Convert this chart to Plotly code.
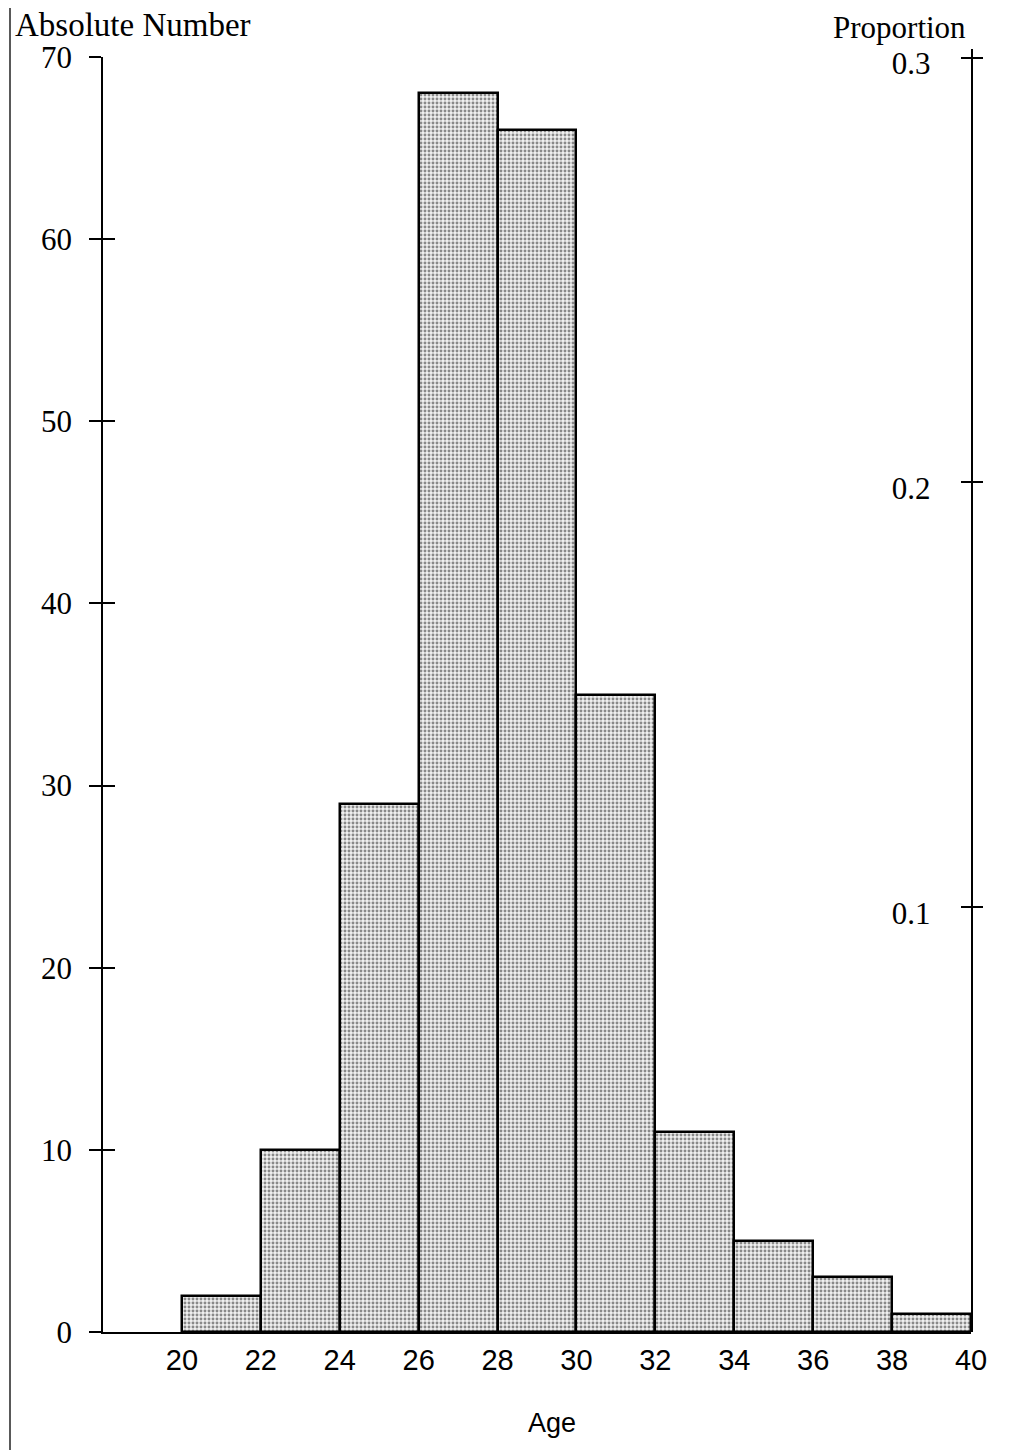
import plotly.graph_objects as go

# ---- data ----
bin_starts = [20, 22, 24, 26, 28, 30, 32, 34, 36, 38]
bin_width = 2
counts = [2, 10, 29, 68, 66, 35, 11, 5, 3, 1]
x_ticks = [20, 22, 24, 26, 28, 30, 32, 34, 36, 38, 40]
y_ticks = [0, 10, 20, 30, 40, 50, 60, 70]
prop_ticks = [0.1, 0.2, 0.3]
left_title = "Absolute Number"
right_title = "Proportion"
x_title = "Age"

centers = [s + bin_width / 2 for s in bin_starts]

# ---- layout geometry (page pixels; page has an 8px body offset) ----
OFF = 8
W, H = 1026 - OFF, 1450 - OFF
L, R, T, B = 103 - OFF, 971 - OFF, 49 - OFF, 1332 - OFF
pw, ph = R - L, B - T


def px(xp):
    return (xp - OFF - L) / pw


def py(yp):
    return (B - (yp - OFF)) / ph


serif = "Liberation Serif, Times New Roman, serif"
sans = "Liberation Sans, Arial, sans-serif"

fig = go.Figure()
fig.add_trace(go.Bar(
    x=centers, y=counts, width=[bin_width] * len(counts),
    marker=dict(color="#eeeeee",
                line=dict(color="black", width=2.5),
                pattern=dict(shape=".", fgcolor="#222222", bgcolor="#f0f0f0",
                             size=4, solidity=0.42)),
    xaxis="x", yaxis="y", hoverinfo="skip", showlegend=False))

# helper traces so the overlay axes get drawn
fig.add_trace(go.Scatter(x=centers, y=counts, mode="markers",
                         marker=dict(opacity=0), xaxis="x", yaxis="y3",
                         hoverinfo="skip", showlegend=False))
total = sum(counts)
props = [c / total for c in counts]
fig.add_trace(go.Scatter(x=centers, y=props, mode="markers",
                         marker=dict(opacity=0), xaxis="x", yaxis="y2",
                         hoverinfo="skip", showlegend=False))
fig.add_trace(go.Scatter(x=centers, y=props, mode="markers",
                         marker=dict(opacity=0), xaxis="x", yaxis="y4",
                         hoverinfo="skip", showlegend=False))

y_top = (1332 - 57) / ph

fig.update_layout(
    width=W, height=H,
    margin=dict(l=L, r=W - R, t=T, b=H - B),
    paper_bgcolor="white", plot_bgcolor="rgba(0,0,0,0)",
    bargap=0,
    showlegend=False,
    xaxis=dict(domain=[0, 1], range=[18, 40], anchor="y",
               showline=True, linecolor="black", linewidth=2,
               ticks="", tickvals=x_ticks,
               ticktext=[str(v) for v in x_ticks],
               tickfont=dict(family=sans, size=29, color="black"),
               ticklabelstandoff=1, ticklabeloverflow="allow",
               showgrid=False, zeroline=False, fixedrange=True),
    yaxis=dict(domain=[0, y_top], range=[0, 70], anchor="x",
               showline=True, linecolor="black", linewidth=1.5,
               ticks="outside", ticklen=12, tickwidth=1.5, tickcolor="black",
               tickvals=y_ticks,
               tickfont=dict(family=serif, size=31, color="black"),
               ticklabelstandoff=11, ticklabeloverflow="allow",
               showgrid=False, zeroline=False),
    yaxis3=dict(overlaying="y", matches="y", anchor="x", side="left",
                range=[0, 70], showline=False,
                ticks="inside", ticklen=12, tickwidth=1.5, tickcolor="black",
                tickvals=y_ticks, showticklabels=False,
                showgrid=False, zeroline=False),
    yaxis2=dict(domain=[0, 1], range=[0, 0.302], anchor="x", side="right",
                showline=True, linecolor="black", linewidth=1.5,
                ticks="outside", ticklen=10, tickwidth=1.5, tickcolor="black",
                tickvals=prop_ticks, ticktext=["0.1", "0.2", "0.3"],
                ticklabelposition="inside",
                tickfont=dict(family=serif, size=31, color="black"),
                ticklabelstandoff=44, ticklabelshift=6,
                ticklabeloverflow="allow",
                showgrid=False, zeroline=False),
    yaxis4=dict(overlaying="y2", matches="y2", anchor="x", side="right",
                range=[0, 0.302], showline=False,
                ticks="inside", ticklen=10, tickwidth=1.5, tickcolor="black",
                tickvals=prop_ticks, showticklabels=False,
                showgrid=False, zeroline=False),
    annotations=[
        dict(text=left_title, xref="paper", yref="paper",
             x=px(133), y=py(25), xanchor="center", yanchor="middle",
             showarrow=False, font=dict(family=serif, size=33, color="black")),
        dict(text=right_title, xref="paper", yref="paper",
             x=px(899), y=py(27), xanchor="center", yanchor="middle",
             showarrow=False, font=dict(family=serif, size=31, color="black")),
        dict(text=x_title, xref="paper", yref="paper",
             x=px(552), y=py(1423), xanchor="center", yanchor="middle",
             showarrow=False, font=dict(family=sans, size=27, color="black")),
    ],
    shapes=[
        dict(type="line", xref="paper", yref="paper",
             x0=px(10), x1=px(10), y0=py(0), y1=py(1450),
             line=dict(color="#222", width=1.5)),
    ],
)

fig.write_html("out.html")
